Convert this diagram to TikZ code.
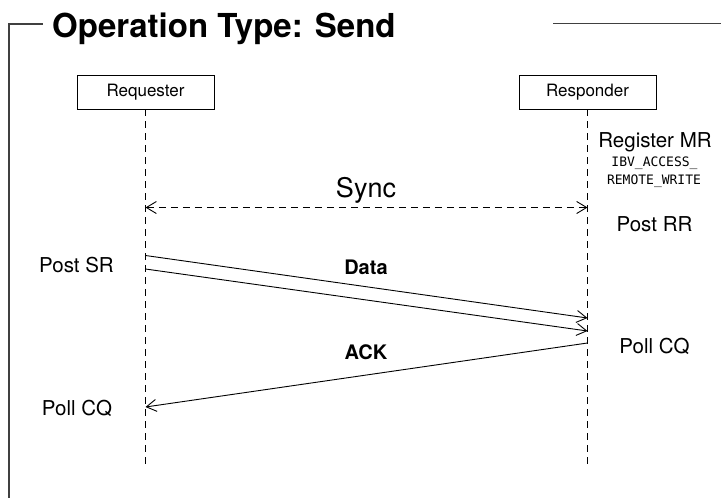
\documentclass[tikz,border=0pt]{standalone}
\usepackage{fontspec}
\setmainfont{TeX Gyre Heros}
\newfontfamily\codefont{DejaVu Sans Mono}
\usetikzlibrary{arrows.meta}
\begin{document}
\begin{tikzpicture}[x=1pt,y=-1pt,
  lifebox/.style={draw,line width=0.9pt,minimum width=137pt,minimum height=34pt,font=\fontsize{17}{19}\selectfont,inner sep=0pt},
  lifeline/.style={line width=0.9pt,dash pattern=on 7pt off 5pt},
  barb/.tip={Straight Barb[length=10pt,width=12pt,line width=0.9pt]},
  msg/.style={line width=0.9pt,-barb},
  note/.style={font=\fontsize{20.5}{23}\selectfont,inner sep=0pt},
  code/.style={font=\codefont\fontsize{13}{15}\selectfont,inner sep=0pt},
  msglabel/.style={font=\fontsize{20}{22}\selectfont\bfseries,inner sep=0pt}]
\useasboundingbox (0,0) rectangle (721,498);
% frame with title
\draw[line width=1.6pt,color=black!75] (9,498) -- (9,24) -- (43,24);
\draw[line width=1.3pt,color=black!75] (553,23.5) -- (721,23.5);
\node[anchor=base west,inner sep=0pt,font=\fontsize{33}{36}\selectfont\bfseries] (title) at (52,37) {Operation Type: Send};
% participants and lifelines
\node[lifebox] (req) at (145.5,92) {Requester};
\node[lifebox] (resp) at (587.5,92) {Responder};
\coordinate (reqend) at (145.5,467);
\coordinate (respend) at (587.5,467);
\draw[lifeline] (req.south) -- (reqend);
\draw[lifeline] (resp.south) -- (respend);
% message end points
\coordinate (s1) at (145.5,207.5);
\coordinate (s2) at (587.5,207.5);
\coordinate (d1a) at (145.5,255.5);
\coordinate (d1b) at (587.5,318);
\coordinate (d2a) at (145.5,269);
\coordinate (d2b) at (587.5,331);
\coordinate (k1) at (587.5,343);
\coordinate (k2) at (145.5,407);
% sync
\draw[line width=0.9pt,dash pattern=on 7pt off 5pt,barb-barb] (s1) -- (s2);
\node[inner sep=0pt,font=\fontsize{27}{30}\selectfont] (sync) at (366,190) {Sync};
% data and ack
\draw[msg] (d1a) -- (d1b);
\draw[msg] (d2a) -- (d2b);
\draw[msg] (k1) -- (k2);
\node[msglabel] (data) at (366,267) {Data};
\node[msglabel] (ack) at (366,352) {ACK};
% annotations
\node[note] (reg) at (655,142) {Register MR};
\node[code] (acc1) at (654.5,163) {IBV\_ACCESS\_};
\node[code] (acc2) at (654,181.5) {REMOTE\_WRITE};
\node[note] (postrr) at (654.5,224) {Post RR};
\node[note] (postsr) at (76.5,265) {Post SR};
\node[note] (pollr) at (654.5,346) {Poll CQ};
\node[note] (polll) at (77,408) {Poll CQ};
\end{tikzpicture}
\end{document}
